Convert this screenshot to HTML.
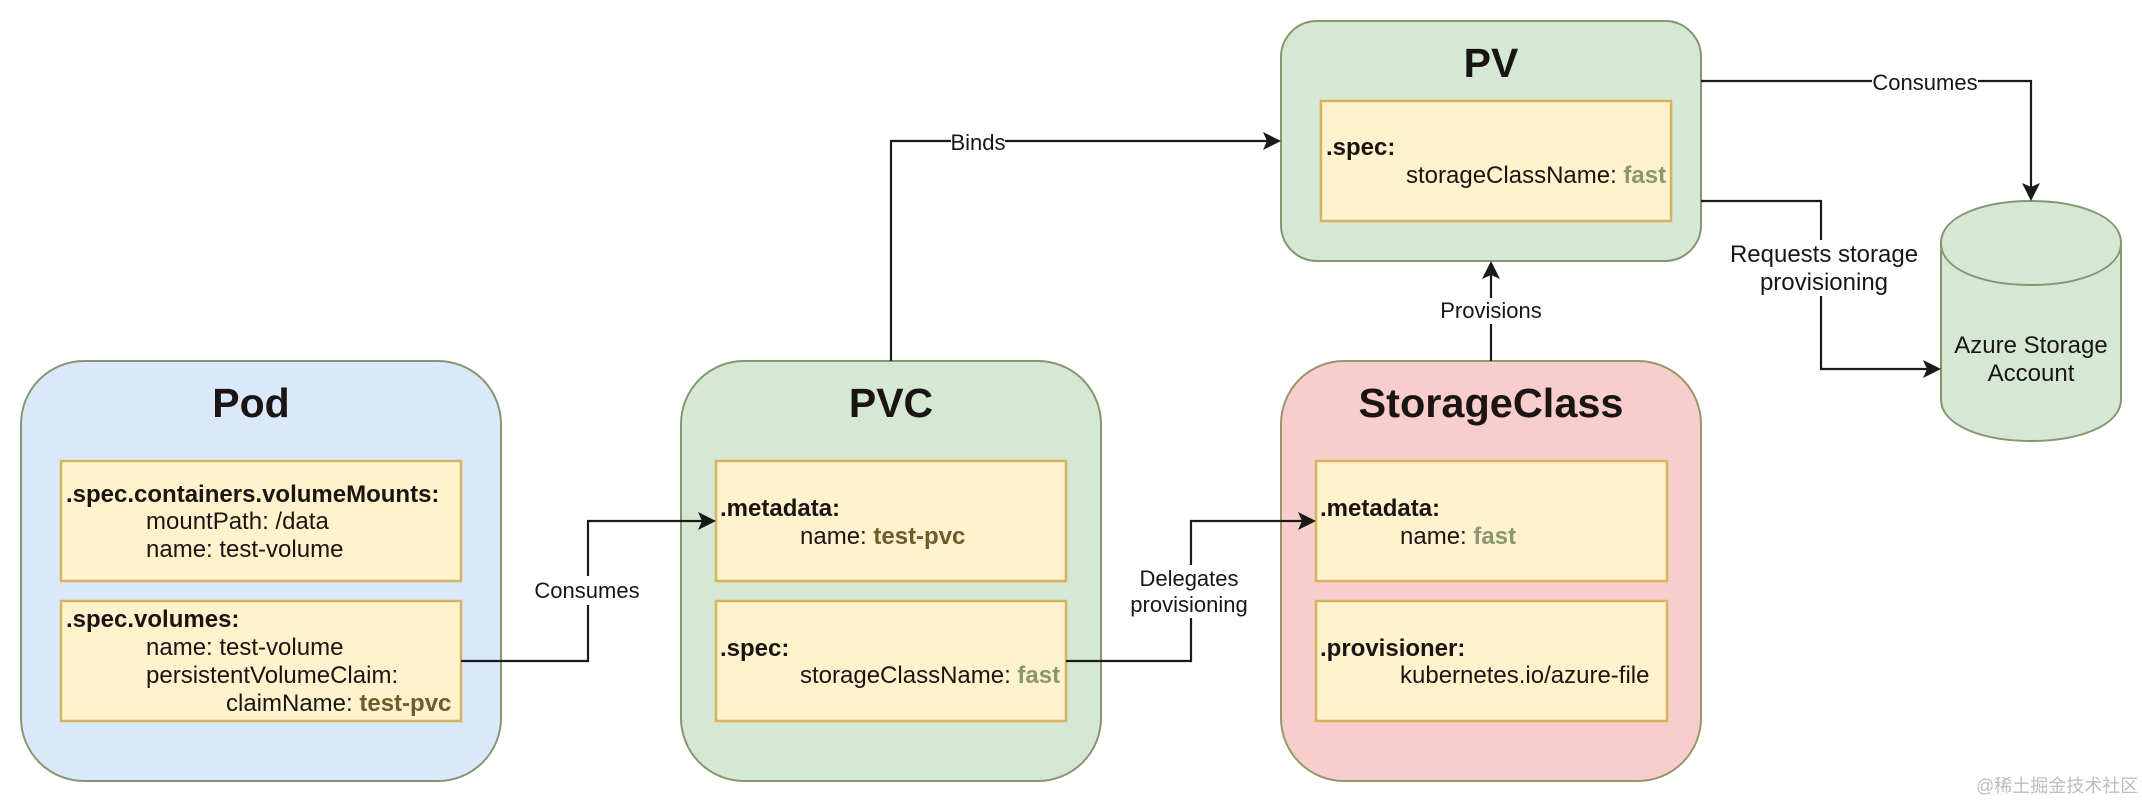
<!DOCTYPE html>
<html lang="en">
<head>
<meta charset="utf-8">
<title>Kubernetes storage diagram</title>
<style>
html,body{margin:0;padding:0;background:#fff;width:2142px;height:802px;overflow:hidden}
svg{display:block}
text{font-family:"Liberation Sans",Arial,sans-serif;fill:#1a1512}
.t{font-size:41px;font-weight:bold;text-anchor:middle}
.b{font-size:24px;font-weight:bold}
.r{font-size:24px}
.l{font-size:22px;text-anchor:middle}
.c{font-size:24px;text-anchor:middle}
.inner{fill:#fff2cc;stroke:#d6b35f;stroke-width:2.5}
.line{fill:none;stroke:#1a1a1a;stroke-width:2.2}
.head{fill:#1a1a1a;stroke:none}
.pvc{font-weight:bold;fill:#6f5c2c}
.fast{font-weight:bold;fill:#8a9672}
</style>
</head>
<body>
<svg width="2142" height="802" viewBox="0 0 2142 802" xmlns="http://www.w3.org/2000/svg">
<rect width="2142" height="802" fill="#fff"/>

<!-- containers -->
<rect x="21" y="361" width="480" height="420" rx="63" ry="63" fill="#dae8fc" stroke="#87966f" stroke-width="2"/>
<rect x="681" y="361" width="420" height="420" rx="63" ry="63" fill="#d5e8d4" stroke="#87966f" stroke-width="2"/>
<rect x="1281" y="361" width="420" height="420" rx="63" ry="63" fill="#f8cecc" stroke="#98966a" stroke-width="2"/>
<rect x="1281" y="21" width="420" height="240" rx="36" ry="36" fill="#d5e8d4" stroke="#87966f" stroke-width="2"/>

<!-- cylinder -->
<path d="M1941 243C1941 187 2121 187 2121 243L2121 399C2121 455 1941 455 1941 399Z" fill="#d5e8d4" stroke="#87966f" stroke-width="2"/>
<path d="M1941 243C1941 299 2121 299 2121 243" fill="none" stroke="#87966f" stroke-width="2"/>

<!-- inner boxes -->
<rect class="inner" x="61" y="461" width="400" height="120"/>
<rect class="inner" x="61" y="601" width="400" height="120"/>
<rect class="inner" x="716" y="461" width="350" height="120"/>
<rect class="inner" x="716" y="601" width="350" height="120"/>
<rect class="inner" x="1316" y="461" width="351" height="120"/>
<rect class="inner" x="1316" y="601" width="351" height="120"/>
<rect class="inner" x="1321" y="101" width="350" height="120"/>

<!-- connectors -->
<path class="line" d="M461 661H588V521H702"/>
<path class="head" d="M716 521L698 512L702 521L698 530Z"/>
<path class="line" d="M1066 661H1191V521H1302"/>
<path class="head" d="M1316 521L1298 512L1302 521L1298 530Z"/>
<path class="line" d="M891 361V141H1267"/>
<path class="head" d="M1281 141L1263 132L1267 141L1263 150Z"/>
<path class="line" d="M1491 361V275"/>
<path class="head" d="M1491 261L1482 279L1491 275L1500 279Z"/>
<path class="line" d="M1701 81H2031V187"/>
<path class="head" d="M2031 201L2022 183L2031 187L2040 183Z"/>
<path class="line" d="M1701 201H1821V369H1927"/>
<path class="head" d="M1941 369L1923 360L1927 369L1923 378Z"/>

<!-- connector label backgrounds -->
<rect x="534" y="576" width="106" height="29" fill="#fff"/>
<rect x="1131" y="565" width="120" height="53" fill="#fff"/>
<rect x="951" y="128" width="54" height="28" fill="#fff"/>
<rect x="1441" y="298" width="101" height="26" fill="#fff"/>
<rect x="1872" y="66" width="106" height="30" fill="#fff"/>
<rect x="1730" y="240" width="190" height="56" fill="#fff"/>

<!-- titles -->
<text class="t" x="251" y="417">Pod</text>
<text class="t" x="891" y="417">PVC</text>
<text class="t" x="1491" y="417" textLength="265" lengthAdjust="spacingAndGlyphs">StorageClass</text>
<text class="t" x="1491" y="77">PV</text>

<!-- Pod text -->
<text class="b" x="66" y="502">.spec.containers.volumeMounts:</text>
<text class="r" x="146" y="529">mountPath: /data</text>
<text class="r" x="146" y="557">name: test-volume</text>
<text class="b" x="66" y="627">.spec.volumes:</text>
<text class="r" x="146" y="655">name: test-volume</text>
<text class="r" x="146" y="683">persistentVolumeClaim:</text>
<text class="r" x="226" y="711">claimName: <tspan class="pvc">test-pvc</tspan></text>

<!-- PVC text -->
<text class="b" x="720" y="516">.metadata:</text>
<text class="r" x="800" y="544">name: <tspan class="pvc">test-pvc</tspan></text>
<text class="b" x="720" y="656">.spec:</text>
<text class="r" x="800" y="683">storageClassName: <tspan class="fast">fast</tspan></text>

<!-- StorageClass text -->
<text class="b" x="1320" y="516">.metadata:</text>
<text class="r" x="1400" y="544">name: <tspan class="fast">fast</tspan></text>
<text class="b" x="1320" y="656">.provisioner:</text>
<text class="r" x="1400" y="683">kubernetes.io/azure-file</text>

<!-- PV text -->
<text class="b" x="1326" y="155">.spec:</text>
<text class="r" x="1406" y="183">storageClassName: <tspan class="fast">fast</tspan></text>

<!-- labels -->
<text class="l" x="587" y="598">Consumes</text>
<text class="l" x="1189" y="586">Delegates</text>
<text class="l" x="1189" y="612">provisioning</text>
<text class="l" x="978" y="150">Binds</text>
<text class="l" x="1491" y="318">Provisions</text>
<text class="l" x="1925" y="90">Consumes</text>
<text class="c" x="1824" y="262">Requests storage</text>
<text class="c" x="1824" y="290">provisioning</text>
<text class="c" x="2031" y="353">Azure Storage</text>
<text class="c" x="2031" y="381">Account</text>

<!-- watermark -->
<text x="1976" y="792" style="font-family:'Liberation Sans','Noto Sans CJK SC',sans-serif;font-size:18px;fill:#bcbcbc">@稀土掘金技术社区</text>
</svg>
</body>
</html>
